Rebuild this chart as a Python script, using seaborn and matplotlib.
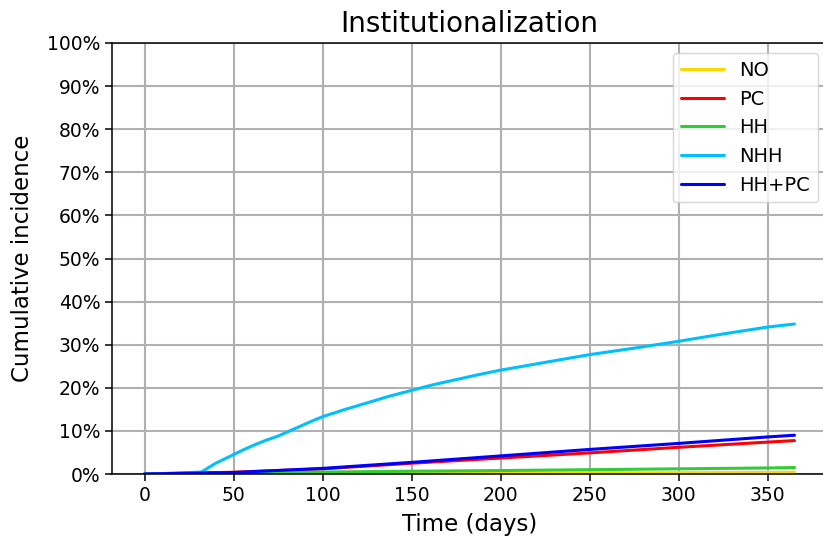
import matplotlib
matplotlib.use("Agg")
import matplotlib.pyplot as plt
import matplotlib.ticker as mticker
import pandas as pd
import seaborn as sns

# Cumulative incidence of institutionalization (%), by care group
days_nhh = [0, 10, 20, 32, 36, 40, 45, 50, 56, 62, 68, 75, 81, 87, 93, 100, 112,
            125, 137, 150, 162, 175, 187, 200, 225, 250, 275, 300, 325, 350, 365]
nhh = [0.0, 0.1, 0.25, 0.45, 1.5, 2.5, 3.5, 4.5, 5.7, 6.8, 7.8, 8.8, 9.9, 11.0,
       12.1, 13.3, 14.9, 16.5, 18.0, 19.4, 20.7, 21.9, 23.0, 24.1, 25.9, 27.7,
       29.2, 30.8, 32.5, 34.1, 34.8]

days = [0, 50, 100, 150, 200, 250, 300, 350, 365]
no_care = [0.0, 0.05, 0.1, 0.15, 0.2, 0.25, 0.3, 0.35, 0.4]
pc = [0.0, 0.4, 1.2, 2.5, 3.7, 4.9, 6.2, 7.4, 7.75]
hh = [0.0, 0.25, 0.45, 0.65, 0.8, 1.0, 1.2, 1.4, 1.5]
hh_pc = [0.0, 0.35, 1.3, 2.7, 4.2, 5.7, 7.1, 8.6, 9.0]

groups = ["NO", "PC", "HH", "NHH", "HH+PC"]
colors = ["#FFD700", "#FF0000", "#32CD32", "#00BFFF", "#0000FF"]
yticks = list(range(0, 101, 10))
xticks = list(range(0, 351, 50))

frames = [
    pd.DataFrame({"day": days, "ci": no_care, "group": "NO"}),
    pd.DataFrame({"day": days, "ci": pc, "group": "PC"}),
    pd.DataFrame({"day": days, "ci": hh, "group": "HH"}),
    pd.DataFrame({"day": days_nhh, "ci": nhh, "group": "NHH"}),
    pd.DataFrame({"day": days, "ci": hh_pc, "group": "HH+PC"}),
]
df = pd.concat(frames, ignore_index=True)

sns.set_theme(style="ticks")
plt.rcParams["font.family"] = ["DejaVu Sans"]
plt.rcParams["text.color"] = "black"
plt.rcParams["axes.labelcolor"] = "black"

fig = plt.figure(figsize=(8.23, 5.37), dpi=100)
ax = fig.add_axes([112 / 823, 1 - 474 / 537, (827 - 112) / 823, (474 - 43) / 537])

sns.lineplot(data=df, x="day", y="ci", hue="group", hue_order=groups,
             palette=dict(zip(groups, colors)), linewidth=2.2, ax=ax,
             estimator=None, sort=True)

ax.set_xlim(-18.25, 383.25)
ax.set_ylim(0, 100)
ax.set_xticks(xticks)
ax.set_yticks(yticks)
ax.yaxis.set_major_formatter(mticker.FuncFormatter(lambda v, p: f"{v:.0f}%"))
ax.grid(True, color="#b0b0b0", linewidth=1.5)
ax.set_axisbelow(True)
for s in ax.spines.values():
    s.set_color("black")
    s.set_linewidth(1.1)
ax.tick_params(axis="both", labelsize=13.5, colors="black", length=5, width=1.1)

ax.set_title("Institutionalization", fontsize=20, pad=8, color="black")
ax.set_xlabel("Time (days)", fontsize=16.5, labelpad=6, color="black")
ax.set_ylabel("Cumulative incidence", fontsize=16.5, labelpad=9, color="black")

handles, labels = ax.get_legend_handles_labels()
leg = ax.legend(handles, labels, loc="upper right", fontsize=14,
                bbox_to_anchor=(818 / 823, 1 - 53 / 537), bbox_transform=fig.transFigure,
                borderaxespad=0, frameon=True, framealpha=0.8, edgecolor="#cccccc",
                fancybox=True, handlelength=2.2)
for t in leg.get_texts():
    t.set_color("black")

fig.savefig("out.png", dpi=100)
